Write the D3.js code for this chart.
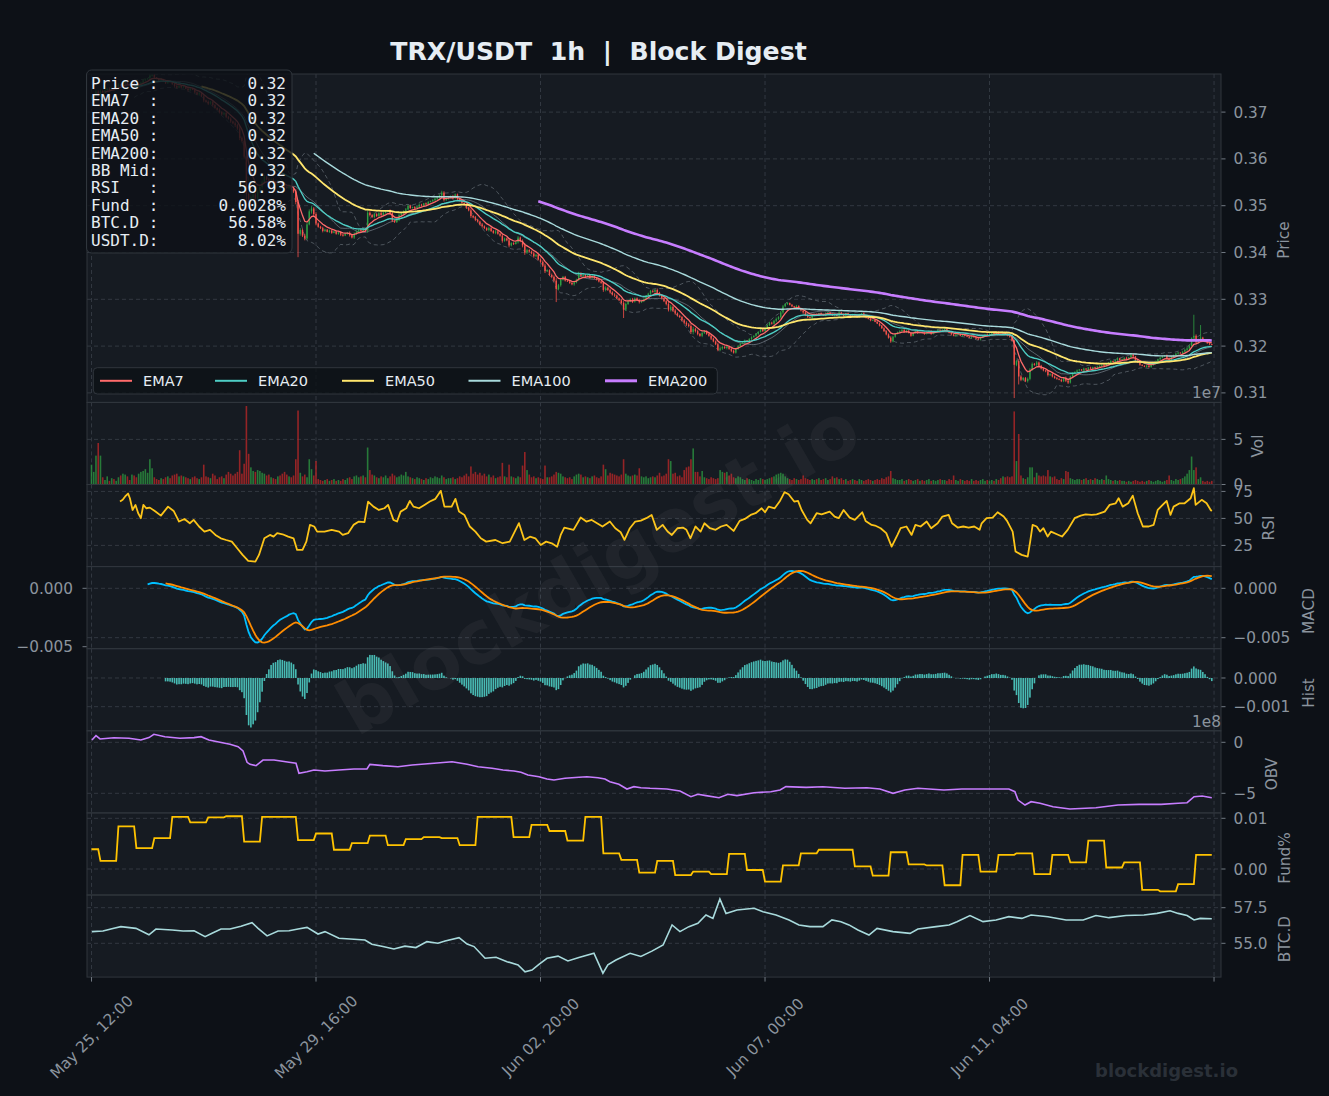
<!DOCTYPE html>
<html>
<head>
<meta charset="utf-8">
<title>TRX/USDT 1h | Block Digest</title>
<script src="https://cdn.jsdelivr.net/npm/d3@7/dist/d3.min.js"></script>
<style>
  body { margin: 0; background: #0d1117; }
</style>
</head>
<body>
<svg id="chart"></svg>
<script>
// hourly candles starting May 25 12:00, prices in units of 0.0001 USDT
const tickHours = [0, 100, 200, 300, 400, 500];
const tickLabels = ["May 25, 12:00", "May 29, 16:00", "Jun 02, 20:00", "Jun 07, 00:00", "Jun 11, 04:00", ""];

const firstOpen = 3728;
const closes = [
  3732, 3735, 3744, 3735, 3745, 3742, 3747, 3750, 3747, 3752,
  3750, 3755, 3759, 3756, 3761, 3765, 3760, 3758, 3763, 3758,
  3755, 3758, 3763, 3768, 3770, 3772, 3778, 3780, 3774, 3771,
  3768, 3770, 3766, 3762, 3766, 3764, 3760, 3756, 3752, 3756,
  3753, 3755, 3750, 3747, 3750, 3748, 3742, 3738, 3740, 3734,
  3725, 3722, 3718, 3722, 3715, 3709, 3705, 3700, 3695, 3698,
  3690, 3686, 3680, 3676, 3672, 3665, 3645, 3638, 3605, 3525,
  3512, 3518, 3524, 3515, 3530, 3540, 3550, 3562, 3556, 3552,
  3556, 3550, 3545, 3552, 3548, 3543, 3540, 3538, 3542, 3535,
  3530, 3508, 3440, 3448, 3436, 3430, 3460, 3488, 3494, 3482,
  3462, 3455, 3452, 3446, 3449, 3444, 3447, 3442, 3445, 3440,
  3443, 3438, 3436, 3440, 3442, 3437, 3432, 3440, 3445, 3448,
  3446, 3450, 3447, 3485, 3480, 3476, 3482, 3478, 3484, 3480,
  3485, 3487, 3490, 3484, 3468, 3465, 3470, 3480, 3484, 3488,
  3492, 3500, 3495, 3497, 3494, 3498, 3502, 3500, 3505, 3503,
  3508, 3510, 3512, 3515, 3518, 3522, 3528, 3512, 3515, 3518,
  3520, 3516, 3524, 3514, 3510, 3506, 3502, 3496, 3490, 3478,
  3475, 3470, 3466, 3460, 3456, 3452, 3448, 3452, 3446, 3442,
  3445, 3440, 3436, 3425, 3430, 3426, 3415, 3420, 3418, 3422,
  3432, 3424, 3415, 3400, 3405, 3402, 3398, 3392, 3395, 3385,
  3380, 3372, 3360, 3362, 3352, 3348, 3340, 3322, 3330, 3342,
  3348, 3340, 3338, 3335, 3332, 3336, 3342, 3356, 3350, 3352,
  3348, 3352, 3346, 3350, 3345, 3342, 3338, 3335, 3320, 3325,
  3320, 3315, 3310, 3308, 3302, 3298, 3292, 3278, 3290, 3296,
  3300, 3295, 3302, 3298, 3294, 3296, 3300, 3308, 3312, 3318,
  3316, 3320, 3314, 3308, 3302, 3296, 3290, 3278, 3284, 3276,
  3270, 3265, 3262, 3255, 3250, 3246, 3243, 3230, 3236, 3232,
  3226, 3222, 3228, 3232, 3226, 3222, 3216, 3210, 3204, 3192,
  3195, 3198, 3196, 3199, 3194, 3190, 3186, 3194, 3200, 3205,
  3208, 3212, 3210, 3215, 3219, 3222, 3226, 3230, 3236, 3232,
  3238, 3245, 3250, 3248, 3254, 3258, 3262, 3272, 3285, 3290,
  3292, 3288, 3285, 3282, 3286, 3280, 3276, 3272, 3266, 3262,
  3260, 3265, 3268, 3266, 3270, 3268, 3266, 3270, 3272, 3268,
  3266, 3268, 3265, 3272, 3268, 3265, 3270, 3266, 3264, 3268,
  3265, 3262, 3268, 3270, 3264, 3260, 3258, 3255, 3256, 3252,
  3248, 3244, 3238, 3232, 3225, 3218, 3210, 3220, 3226, 3230,
  3232, 3235, 3230, 3233, 3228, 3222, 3228, 3232, 3228, 3230,
  3228, 3226, 3230, 3232, 3226, 3229, 3231, 3234, 3232, 3235,
  3236, 3232, 3228, 3225, 3222, 3224, 3226, 3222, 3224, 3222,
  3220, 3218, 3221, 3219, 3216, 3214, 3218, 3222, 3225, 3224,
  3226, 3228, 3226, 3230, 3226, 3224, 3228, 3226, 3222, 3220,
  3212, 3160, 3168, 3135, 3128, 3132, 3125, 3130, 3150, 3162,
  3160, 3165, 3158, 3152, 3148, 3146, 3138, 3140, 3135, 3132,
  3130, 3128, 3125, 3132, 3126, 3122, 3135, 3142, 3145, 3148,
  3150, 3148, 3152, 3150, 3154, 3152, 3155, 3153, 3156, 3158,
  3160, 3158, 3162, 3165, 3168, 3166, 3170, 3174, 3170, 3172,
  3175, 3172, 3176, 3182, 3178, 3170, 3165, 3160, 3158, 3156,
  3158, 3155, 3160, 3162, 3168, 3172, 3175, 3178, 3180, 3174,
  3170, 3178, 3180, 3184, 3186, 3185, 3188, 3192, 3195, 3200,
  3218, 3222, 3208, 3214, 3218, 3212, 3210, 3206, 3204, 3203
];
// wick beyond the body, 0.0001 units
const wicks = [
  2,3,4,3,3,2,1,2,3,1,2,2,3,1,2,3,2,1,2,3,2,1,2,3,2,
  1,3,2,2,1,2,3,1,2,2,1,2,3,2,1,2,2,1,3,2,1,2,2,3,2,
  4,2,3,2,3,2,1,3,2,2,3,2,3,2,4,3,5,3,4,0,6,4,3,4,3,
  3,4,3,2,3,2,3,2,3,2,2,3,2,3,2,3,5,0,4,3,4,3,4,5,3,
  4,2,2,3,2,1,2,2,1,2,2,3,2,1,2,3,2,3,2,2,3,2,2,5,3,
  2,3,2,2,3,2,2,1,2,3,2,2,3,2,2,3,2,2,1,2,2,3,2,1,2,
  2,1,2,2,3,2,4,3,2,2,2,3,2,2,1,2,2,3,2,4,2,3,2,2,3,
  2,2,3,2,2,3,2,2,4,2,2,4,2,2,1,3,2,4,5,3,2,2,3,2,2,
  2,3,4,2,2,3,3,0,3,3,2,2,1,2,2,3,2,3,2,2,2,1,2,2,2,
  2,2,2,4,3,2,3,2,3,2,2,3,0,3,2,2,3,2,2,3,2,2,1,2,2,
  2,2,3,2,2,2,3,4,4,3,3,2,2,2,3,3,3,4,5,3,3,2,3,2,2,
  2,3,2,2,3,3,3,2,3,2,3,2,2,2,2,1,2,1,2,2,1,2,2,1,2,
  1,2,2,2,2,3,2,3,3,2,2,1,2,1,2,1,2,3,2,2,1,2,1,2,1,
  2,1,2,1,1,2,2,1,2,1,2,1,1,2,1,1,2,1,1,2,1,1,2,1,1,
  1,2,1,2,2,2,3,2,2,1,2,1,1,2,1,2,1,1,2,1,1,2,1,1,2,
  1,1,2,1,1,2,1,1,2,1,2,1,1,2,1,1,1,2,1,1,1,2,1,1,2,
  1,2,1,1,2,1,2,2,1,2,2,0,3,0,3,2,2,3,3,3,2,3,2,2,2,
  2,3,2,2,2,2,1,2,2,3,3,2,2,1,2,1,1,2,1,1,2,1,1,2,1,
  1,2,1,1,2,1,1,2,1,1,1,2,1,1,2,1,1,2,1,1,2,1,1,2,1,
  1,2,1,1,2,2,1,2,1,2,1,2,2,3,3,0,2,3,2,0,2,2,1,2,1
];
// [hour, high, low] for candles with long wicks
const spikes = [
  [69, 3612, 3490], [70, 3528, 3500], [92, 3512, 3390], [97, 3492, 3458],
  [207, 3345, 3294], [237, 3296, 3260], [411, 3214, 3089], [413, 3172, 3118],
  [491, 3267, 3210], [494, 3245, 3210]
];
// volume, millions
const volumes = [
  22, 14, 32, 46, 32, 8, 5, 9, 4, 7,
  6, 4, 8, 10, 12, 11, 9, 5, 11, 10,
  8, 12, 14, 15, 17, 13, 28, 18, 8, 6,
  5, 7, 6, 8, 9, 7, 10, 11, 12, 9,
  10, 9, 8, 7, 6, 8, 9, 7, 6, 8,
  22, 9, 8, 7, 12, 10, 6, 8, 9, 7,
  11, 14, 12, 10, 12, 14, 38, 12, 23, 87,
  34, 19, 15, 14, 16, 15, 13, 12, 10, 11,
  8, 7, 6, 9, 10, 12, 14, 11, 9, 8,
  10, 28, 82, 13, 9, 11, 8, 28, 17, 10,
  26, 6, 5, 4, 5, 6, 4, 5, 6, 4,
  5, 4, 6, 5, 7, 8, 6, 9, 10, 8,
  9, 10, 8, 41, 16, 11, 10, 8, 7, 9,
  8, 10, 7, 9, 12, 10, 8, 9, 11, 10,
  14, 9, 8, 7, 6, 8, 7, 6, 5, 7,
  6, 8, 7, 9, 8, 7, 10, 8, 6, 7,
  7, 8, 6, 7, 9, 8, 10, 12, 9, 20,
  12, 14, 11, 13, 10, 12, 9, 11, 8, 10,
  7, 8, 9, 24, 9, 8, 22, 9, 8, 7,
  9, 8, 21, 36, 16, 11, 8, 9, 7, 8,
  7, 6, 21, 8, 8, 9, 11, 14, 13, 12,
  9, 8, 7, 8, 6, 9, 11, 12, 11, 8,
  9, 8, 7, 9, 10, 8, 7, 9, 22, 17,
  10, 13, 12, 11, 10, 9, 11, 28, 12, 10,
  9, 10, 11, 10, 18, 9, 8, 9, 7, 8,
  9, 8, 10, 13, 9, 10, 12, 28, 26, 12,
  13, 9, 10, 8, 16, 19, 20, 28, 40, 14,
  14, 9, 15, 8, 7, 6, 8, 7, 6, 7,
  16, 14, 13, 14, 10, 12, 8, 7, 9, 8,
  6, 5, 7, 6, 5, 4, 6, 5, 7, 6,
  5, 6, 7, 8, 9, 11, 12, 13, 12, 9,
  7, 6, 5, 7, 6, 5, 6, 10, 7, 6,
  5, 6, 5, 6, 7, 5, 6, 7, 5, 6,
  9, 7, 8, 6, 7, 5, 6, 4, 5, 6,
  5, 4, 6, 5, 4, 5, 6, 5, 4, 5,
  6, 5, 7, 6, 8, 9, 15, 7, 6, 5,
  5, 6, 4, 5, 6, 5, 4, 5, 6, 4,
  5, 4, 5, 6, 4, 5, 4, 5, 6, 5,
  5, 4, 6, 5, 10, 5, 4, 6, 5, 4,
  5, 4, 6, 4, 5, 4, 5, 6, 4, 5,
  4, 5, 4, 6, 5, 7, 9, 8, 9, 8,
  9, 81, 26, 56, 10, 7, 6, 8, 19, 19,
  8, 13, 10, 9, 10, 9, 16, 9, 8, 9,
  6, 5, 7, 6, 15, 14, 7, 6, 5, 6,
  6, 5, 6, 7, 5, 6, 5, 7, 6, 5,
  6, 5, 10, 6, 5, 4, 5, 4, 5, 4,
  4, 3, 4, 3, 4, 5, 4, 3, 4, 3,
  4, 5, 4, 3, 4, 5, 4, 3, 4, 5,
  10, 5, 4, 6, 5, 6, 7, 9, 12, 16,
  31, 16, 19, 6, 8, 4, 3, 4, 3, 4
];
// [hour, RSI]
const rsiPoints = [
  [12.7,65.6],[13.9,67.2],[15,70.3],[16.3,73],[17.1,68.7],[18.3,57.8],[19.6,62.5],[20.8,54.8],[22,50.2],[23.1,62.5],
  [24.4,59.4],[26,60],[28.5,56.3],[30.9,52.6],[34.1,60.9],[36.6,56.9],[39,47.1],[41.4,49.5],[43.8,45.5],[45.5,48.6],
  [47.9,42.5],[50.3,37.8],[52.8,39.4],[55.2,34.7],[57.6,31.6],[60,30],[62.5,28.5],[64.9,22.4],[67.3,16.2],[69.8,10.6],
  [73,10],[74.6,16.2],[77,31.6],[79.5,34.7],[81.1,33.1],[82.7,36.3],[85.1,35.3],[87.6,33.1],[90,31.6],[91.6,20.8],
  [94,20.8],[95.7,28.5],[97.3,44],[99.2,42.5],[100.5,37.8],[103.8,37.8],[107,39.4],[110.3,37.8],[111.9,34.7],[114.3,36.3],
  [116.7,44],[119.1,47.1],[121.6,46.5],[123.2,65.6],[125.6,60.9],[128,57.8],[130.5,59.4],[132.1,62.5],[134.5,48.6],[136.1,47.1],
  [137.7,56.3],[140.2,59.4],[141.8,66.2],[143.4,60.9],[145.9,59.4],[148.3,62.5],[150.7,65.6],[153.2,68.1],[155.6,75.5],[157.2,60.9],
  [160.4,60.9],[162.1,68.1],[163.7,56.3],[166.1,53.2],[168.5,42.5],[171,37.8],[173.4,31.6],[175.8,28.5],[179.9,30],[183.1,27],
  [186.3,28.5],[190.4,45.6],[192.8,30],[195.3,33.1],[197.7,31.6],[200.1,25.4],[202.5,28.5],[205,26.9],[207.4,23.8],[209,34.7],
  [210.6,41.5],[214.7,39.4],[217.9,50.8],[220.4,47.1],[222.8,48.6],[225.2,45.6],[227.6,42.5],[230.9,47.1],[233.3,40.9],[235.7,37.2],
  [237.4,30.1],[239.8,40.9],[242.2,47.1],[244.7,48],[247.1,50.2],[249.5,53.2],[251.8,39.4],[254.4,44],[256.6,37.8],[258.5,34.7],
  [261,40.9],[263.4,41.5],[265,39.4],[266.8,31.6],[269,42.5],[271.3,37.8],[273,45.5],[275.5,40.9],[278,39.4],[280.4,42.5],
  [282.9,44],[286,38.4],[288.7,47.7],[291,49.5],[293.6,53.2],[295.8,54.8],[298.5,59.4],[300,55.7],[301.6,60.9],[304.3,59.4],
  [306.5,65.6],[308.7,74.3],[310.5,72.4],[313,65.6],[314.7,66.2],[316.3,57.8],[318.8,48.6],[320.3,45.5],[323,54.8],[325.2,53.8],
  [328.8,56.3],[331,51.7],[332.8,50.2],[335,57.8],[337.7,50.7],[340,48.6],[343.3,55.7],[344.8,47.7],[347.5,44],[349,43.4],
  [351.5,40.9],[354,36.3],[356.4,23.9],[359,34.7],[360.4,40.9],[363,42.5],[365.3,34.7],[367,44],[369.3,42.5],[372,47.1],
  [374,40.9],[376.9,45.5],[379,51.7],[381.8,53.2],[383.3,45.5],[385.8,41.5],[388.3,42.5],[390.7,41.5],[393.2,42.5],[395.6,39.4],
  [396.5,45.5],[398.7,50.2],[401.4,50.8],[403.6,55.7],[406.3,51.7],[407.8,47.7],[410.3,37.8],[411.6,19.3],[414.3,16.2],[417,14.7],
  [418.1,28.5],[419.2,44],[421,42.5],[422.5,37.8],[424,40.9],[425.9,33.2],[427.4,37.8],[430,35.3],[432.3,33.2],[434.8,39.4],
  [437.9,50.2],[440.6,52.6],[442.8,53.8],[445.5,53.2],[447.7,53.8],[451.3,56.3],[453.5,62.5],[456.2,64],[457.5,68.7],[459.3,60.9],
  [461.8,64],[463.8,71.1],[466,54.8],[468.3,42.5],[470.9,42.5],[473.1,44],[474.9,57.8],[477.1,62.5],[478.9,66.2],[480.6,53.2],
  [482,60.9],[484.7,64],[486.9,64],[489.6,68.7],[491,78],[491.8,62.5],[494.5,67.2],[496.7,64],[498.5,57.8],[499,56.9]
];
// [hour, OBV in 1e8]
const obvPoints = [
  [0.2,0.23],[2,0.65],[3.8,0.33],[10,0.45],[16.7,0.39],[22,0.23],[25.6,0.46],[27.8,0.78],[32.7,0.55],[39.4,0.39],
  [45.7,0.46],[48.8,0.55],[52.3,0.23],[57.2,0.0],[61.7,-0.2],[65.3,-0.43],[67.5,-0.85],[69.3,-1.96],[70.6,-2.16],[73.3,-2.29],
  [76.4,-1.74],[81.3,-1.74],[88,-1.96],[91.1,-2.06],[92.4,-3.04],[96,-2.88],[99.1,-2.72],[104,-2.81],[110.2,-2.72],[116.9,-2.62],
  [122.7,-2.62],[124,-2.16],[129.8,-2.29],[136.5,-2.39],[142.8,-2.22],[152.6,-2.06],[160.6,-1.9],[167.3,-2.16],[172.2,-2.39],[178.4,-2.55],
  [183.3,-2.72],[188.2,-2.81],[191.3,-2.94],[194.4,-3.2],[199.3,-3.37],[202.9,-3.6],[206,-3.7],[210.9,-3.53],[217.1,-3.43],[220.7,-3.37],
  [225.6,-3.47],[228.7,-3.6],[230.9,-3.86],[234.9,-4.12],[238.5,-4.58],[241.6,-4.35],[244.7,-4.45],[248.8,-4.51],[256.3,-4.58],[262.1,-4.77],
  [267,-5.33],[270.1,-5.1],[273.7,-5.23],[279.5,-5.43],[283.5,-5.1],[287.5,-5.23],[295.1,-4.94],[302.6,-4.84],[306.7,-4.68],[309.3,-4.35],
  [318.3,-4.42],[325.8,-4.35],[335.6,-4.51],[345.4,-4.45],[351.2,-4.58],[357,-5.0],[362.3,-4.68],[368.1,-4.51],[379.7,-4.68],[387.7,-4.58],
  [399.3,-4.58],[408.6,-4.58],[411.3,-4.84],[412.7,-5.66],[415.8,-6.15],[418.5,-5.82],[422.5,-5.98],[428.3,-6.31],[435.8,-6.54],[447.4,-6.41],
  [457.2,-6.15],[466.6,-6.08],[476.4,-6.08],[484,-5.98],[488,-5.92],[491.1,-5.33],[494.7,-5.26],[499,-5.43]
];
// [hour, BTC dominance %]
const btcdPoints = [
  [0.2,55.82],[5.1,55.86],[10,56.05],[13.1,56.17],[19.8,56.05],[25.6,55.6],[28.7,56.0],[35.9,55.93],[40.8,55.86],[45.7,55.88],
  [50.6,55.47],[53.7,55.7],[57.7,56.0],[61.7,56.0],[66.6,56.2],[71.5,56.45],[74.2,56.05],[78.2,55.52],[83.1,55.86],[88,55.88],
  [92,56.0],[96,56.12],[100.9,55.65],[104,55.82],[110.2,55.35],[116.9,55.28],[121.8,55.23],[124.9,54.93],[129.8,54.77],[134.7,54.6],
  [139.6,54.8],[144.5,54.7],[149.4,55.12],[154.3,55.0],[157.5,55.16],[163.7,55.4],[167.3,54.95],[170.4,54.77],[175.3,53.95],[180.2,54.02],
  [185.1,53.71],[190,53.48],[193.1,53.0],[196.2,53.12],[199.3,53.52],[202.9,53.95],[207.8,54.1],[212.2,53.76],[217.1,54.0],[223.8,54.3],
  [227.8,52.9],[230,53.48],[233.6,53.83],[239.9,54.3],[244.7,54.08],[249.6,54.45],[254.6,54.88],[258.6,56.29],[262.1,55.82],[266.1,56.17],
  [270.1,56.4],[273.7,56.99],[276.8,56.75],[279.9,58.11],[282.6,57.1],[287.5,57.34],[295.1,57.46],[299.1,57.22],[304.9,56.99],[310.7,56.64],
  [315.1,56.29],[320,56.17],[325.8,56.17],[329.8,56.64],[333.8,56.52],[337.4,56.29],[341.4,55.93],[346.3,55.58],[349.9,56.05],[357,55.82],
  [364.6,55.7],[368.1,56.0],[376.2,56.17],[382,56.29],[385.5,56.52],[391.3,56.95],[397.1,56.52],[402.9,56.64],[408.6,56.87],[414.4,56.75],
  [418.5,56.99],[426,56.87],[434.1,56.64],[441.7,56.64],[447.4,56.95],[453.2,56.8],[460.8,56.95],[468.8,56.99],[474.6,57.1],[480.4,57.28],
  [484,57.1],[488,56.95],[491.1,56.64],[493.8,56.75],[499,56.72]
];
// funding rate %, one value per 8h period (first change at hour 4)
const fundByPeriod = [
  0.0039, 0.0016, 0.0084, 0.0041, 0.0061, 0.0103, 0.0092, 0.0102, 0.0104, 0.0054,
  0.0103, 0.0103, 0.0057, 0.0070, 0.0038, 0.0051, 0.0066, 0.0047, 0.0059, 0.0063,
  0.0061, 0.0047, 0.0103, 0.0103, 0.0063, 0.0087, 0.0075, 0.0056, 0.0103, 0.0031,
  0.0018, -0.0007, 0.0016, -0.0012, -0.0005, -0.0010, 0.0030, -0.0002, -0.0025, 0.0007,
  0.0031, 0.0038, 0.0038, 0.0005, -0.0013, 0.0033, 0.0009, 0.0007, -0.0032, 0.0028,
  -0.0005, 0.0028, 0.0031, -0.0010, 0.0028, 0.0013, 0.0056, 0.0003, 0.0013, -0.0041,
  -0.0044, -0.0030, 0.0028
];
const infoLabels = ["Price :", "EMA7  :", "EMA20 :", "EMA50 :", "EMA200:", "BB Mid:", "RSI   :", "Fund  :", "BTC.D :", "USDT.D:"];
const infoValues = ["0.32", "0.32", "0.32", "0.32", "0.32", "0.32", "56.93", "0.0028%", "56.58%", "8.02%"];
const emaSpans = [7, 20, 50, 100, 200];
const emaNames = ["EMA7", "EMA20", "EMA50", "EMA100", "EMA200"];

// ---- layout ----
const W = 1329, H = 1096;
const L = 87, R = 1221;
const rows = [74, 402.4, 484.5, 566.6, 648.7, 730.8, 812.9, 895, 977.1];
const bg = "#0d1117", panelBg = "#161b22", border = "#30363d", gridColor = "#3a4049", tickColor = "#8b949e";
const upColor = "#2ea043", downColor = "#f85149";
const emaColors = ["#ff6b6b", "#4ecdc4", "#ffe66d", "#a8dadc", "#c77dff"];
const emaWidths = [1.3, 1.4, 1.8, 1.4, 2.6];
const sans = "DejaVu Sans, sans-serif", mono = "DejaVu Sans Mono, monospace";
const fs = 15.3;

const svg = d3.select("#chart").attr("width", W).attr("height", H).style("font-family", sans);
svg.append("rect").attr("width", W).attr("height", H).attr("fill", bg);

const x = d3.scaleLinear().domain([-2, 503.1]).range([L, R]);

const defs = svg.append("defs");
const panels = rows.slice(0, -1).map((top, k) => {
  const bottom = rows[k + 1];
  svg.append("rect").attr("x", L).attr("y", top).attr("width", R - L).attr("height", bottom - top).attr("fill", panelBg);
  defs.append("clipPath").attr("id", "clip" + k).append("rect")
    .attr("x", L).attr("y", top).attr("width", R - L).attr("height", bottom - top);
  const grid = svg.append("g");
  const g = svg.append("g").attr("clip-path", "url(#clip" + k + ")");
  tickHours.forEach(h => {
    grid.append("line").attr("x1", x(h)).attr("x2", x(h)).attr("y1", top).attr("y2", bottom)
      .attr("stroke", gridColor).attr("stroke-width", 0.8).attr("stroke-dasharray", "4,3");
  });
  return { top, bottom, grid, g };
});

function yTicks(k, scale, vals, labels, side) {
  const p = panels[k];
  vals.forEach((v, j) => {
    const yy = scale(v);
    if (side !== "left") {
      p.grid.append("line").attr("x1", L).attr("x2", R).attr("y1", yy).attr("y2", yy)
        .attr("stroke", gridColor).attr("stroke-width", 0.8).attr("stroke-dasharray", "4,3");
      svg.append("line").attr("x1", R).attr("x2", R + 4.5).attr("y1", yy).attr("y2", yy)
        .attr("stroke", tickColor).attr("stroke-width", 0.8);
      svg.append("text").attr("x", R + 12.5).attr("y", yy).attr("dy", "0.36em")
        .attr("fill", tickColor).attr("font-size", fs).text(labels[j]);
    } else {
      svg.append("line").attr("x1", L - 4.5).attr("x2", L).attr("y1", yy).attr("y2", yy)
        .attr("stroke", tickColor).attr("stroke-width", 0.8);
      svg.append("text").attr("x", L - 14).attr("y", yy).attr("dy", "0.36em").attr("text-anchor", "end")
        .attr("fill", tickColor).attr("font-size", fs).text(labels[j]);
    }
  });
}

function ema(arr, span, minP) {
  const a = 2 / (span + 1);
  let num = 0, den = 0, n = 0;
  return arr.map(v => {
    if (v == null) return null;
    num = v + (1 - a) * num;
    den = 1 + (1 - a) * den;
    n++;
    return n >= minP ? num / den : null;
  });
}
const lineFor = scale => d3.line().defined(d => d[1] != null).x(d => x(d[0])).y(d => scale(d[1]));
const withHour = arr => arr.map((v, i) => [i, v]);

// ---- price panel ----
const cl = closes.map(c => c / 1e4);
const candles = closes.map((c, i) => {
  const o = i === 0 ? firstOpen : closes[i - 1];
  const w = wicks[i] || 0;
  let hi = Math.max(o, c) + w, lo = Math.min(o, c) - w;
  const s = spikes.find(d => d[0] === i);
  if (s) { hi = s[1]; lo = s[2]; }
  return { i, o: o / 1e4, c: c / 1e4, hi: hi / 1e4, lo: lo / 1e4, v: volumes[i] };
});
const yP = d3.scaleLinear().domain([0.30797, 0.378141]).range([rows[1], rows[0]]);
const pg = panels[0].g;

const bbMid = cl.map((c, i) => i < 19 ? null : d3.mean(cl.slice(i - 19, i + 1)));
const bbSd = cl.map((c, i) => i < 19 ? null : d3.deviation(cl.slice(i - 19, i + 1)));
const bbUp = bbMid.map((m, i) => m == null ? null : m + 2 * bbSd[i]);
const bbLo = bbMid.map((m, i) => m == null ? null : m - 2 * bbSd[i]);
[bbUp, bbLo].forEach(s => {
  pg.append("path").datum(withHour(s)).attr("d", lineFor(yP)).attr("fill", "none")
    .attr("stroke", "#8b949e").attr("stroke-opacity", 0.55).attr("stroke-width", 0.9).attr("stroke-dasharray", "4,3");
});
pg.append("path").datum(withHour(bbMid)).attr("d", lineFor(yP)).attr("fill", "none")
  .attr("stroke", "#8b949e").attr("stroke-opacity", 0.6).attr("stroke-width", 1);

pg.selectAll(".wick").data(candles).join("line")
  .attr("x1", d => x(d.i)).attr("x2", d => x(d.i))
  .attr("y1", d => yP(d.hi)).attr("y2", d => yP(d.lo))
  .attr("stroke", d => d.c >= d.o ? upColor : downColor).attr("stroke-width", 0.8);
pg.selectAll(".body").data(candles).join("rect")
  .attr("x", d => x(d.i) - 0.7).attr("width", 1.4)
  .attr("y", d => yP(Math.max(d.o, d.c)))
  .attr("height", d => Math.max(0.8, Math.abs(yP(d.o) - yP(d.c))))
  .attr("fill", d => d.c >= d.o ? upColor : downColor);

const emaSeries = emaSpans.map(s => ema(cl, s, s));
emaSeries.forEach((s, k) => {
  pg.append("path").datum(withHour(s)).attr("d", lineFor(yP)).attr("fill", "none")
    .attr("stroke", emaColors[k]).attr("stroke-width", emaWidths[k]);
});
yTicks(0, yP, [0.31, 0.32, 0.33, 0.34, 0.35, 0.36, 0.37], ["0.31", "0.32", "0.33", "0.34", "0.35", "0.36", "0.37"]);

// ---- volume ----
const yV = d3.scaleLinear().domain([0, 91]).range([rows[2], rows[1]]);
panels[1].g.selectAll("rect").data(candles).join("rect")
  .attr("x", d => x(d.i) - 0.8).attr("width", 1.6)
  .attr("y", d => yV(d.v)).attr("height", d => yV(0) - yV(d.v))
  .attr("fill", d => d.c >= d.o ? "#2ea043" : "#c62828").attr("fill-opacity", 0.72);
yTicks(1, yV, [0, 50], ["0", "5"]);

// ---- RSI ----
const yR = d3.scaleLinear().domain([5.37, 81.4]).range([rows[3], rows[2]]);
panels[2].g.append("path").datum(rsiPoints).attr("d", lineFor(yR)).attr("fill", "none")
  .attr("stroke", "#fcc419").attr("stroke-width", 1.8).attr("stroke-linejoin", "round");
yTicks(2, yR, [25, 50, 75], ["25", "50", "75"]);

// ---- MACD ----
const e12 = ema(cl, 12, 12), e26 = ema(cl, 26, 26);
const macd = cl.map((c, i) => e12[i] != null && e26[i] != null ? e12[i] - e26[i] : null);
const signal = ema(macd, 9, 9);
const hist = macd.map((m, i) => m != null && signal[i] != null ? m - signal[i] : null);
const yM = d3.scaleLinear().domain([-0.006113, 0.002196]).range([rows[4], rows[3]]);
const yS = d3.scaleLinear().domain([-0.005171, 0.001858]).range([rows[4], rows[3]]);
panels[3].g.append("path").datum(withHour(macd)).attr("d", lineFor(yM)).attr("fill", "none")
  .attr("stroke", "#00bfff").attr("stroke-width", 1.8);
panels[3].g.append("path").datum(withHour(signal)).attr("d", lineFor(yS)).attr("fill", "none")
  .attr("stroke", "#ff8c00").attr("stroke-width", 1.8);
yTicks(3, yM, [0, -0.005], ["0.000", "\u22120.005"]);
yTicks(3, yS, [0, -0.005], ["0.000", "\u22120.005"], "left");

// ---- histogram ----
const yH = d3.scaleLinear().domain([-0.00184, 0.001021]).range([rows[5], rows[4]]);
panels[4].g.selectAll("rect").data(withHour(hist).filter(d => d[1] != null)).join("rect")
  .attr("x", d => x(d[0]) - 0.8).attr("width", 1.6)
  .attr("y", d => Math.min(yH(0), yH(d[1]))).attr("height", d => Math.abs(yH(d[1]) - yH(0)))
  .attr("fill", "#4ecdc4").attr("fill-opacity", 0.9);
yTicks(4, yH, [0, -0.001], ["0.000", "\u22120.001"]);

// ---- OBV ----
const yO = d3.scaleLinear().domain([-6.92, 1.127]).range([rows[6], rows[5]]);
panels[5].g.append("path").datum(obvPoints).attr("d", lineFor(yO)).attr("fill", "none")
  .attr("stroke", "#c77dff").attr("stroke-width", 1.6);
yTicks(5, yO, [0, -5], ["0", "\u22125"]);

// ---- funding ----
const yF = d3.scaleLinear().domain([-0.005128, 0.011065]).range([rows[7], rows[6]]);
const fundHourly = closes.map((c, i) => [i, fundByPeriod[i < 4 ? 0 : 1 + Math.floor((i - 4) / 8)]]);
panels[6].g.append("path").datum(fundHourly).attr("d", lineFor(yF)).attr("fill", "none")
  .attr("stroke", "#ffc300").attr("stroke-width", 1.8);
yTicks(6, yF, [0, 0.01], ["0.00", "0.01"]);

// ---- BTC dominance ----
const yB = d3.scaleLinear().domain([52.626, 58.392]).range([rows[8], rows[7]]);
panels[7].g.append("path").datum(btcdPoints).attr("d", lineFor(yB)).attr("fill", "none")
  .attr("stroke", "#a8dadc").attr("stroke-width", 1.6);
yTicks(7, yB, [55, 57.5], ["55.0", "57.5"]);

// panel borders
panels.forEach(p => {
  svg.append("rect").attr("x", L).attr("y", p.top).attr("width", R - L).attr("height", p.bottom - p.top)
    .attr("fill", "none").attr("stroke", border).attr("stroke-width", 1);
});

// x axis
tickHours.forEach((h, j) => {
  svg.append("line").attr("x1", x(h)).attr("x2", x(h)).attr("y1", rows[8]).attr("y2", rows[8] + 4.5)
    .attr("stroke", tickColor).attr("stroke-width", 0.8);
  if (tickLabels[j]) {
    svg.append("text").attr("transform", `translate(${x(h)},1037) rotate(-45)`)
      .attr("text-anchor", "middle").attr("dy", "0.35em").attr("fill", tickColor).attr("font-size", fs)
      .text(tickLabels[j]);
  }
});

// axis labels
[["Price", 1284, 240], ["Vol", 1257.5, 446], ["RSI", 1268.5, 528], ["MACD", 1308.5, 611],
 ["Hist", 1308.5, 693], ["OBV", 1271.5, 774], ["Fund%", 1284.5, 858], ["BTC.D", 1284.5, 939]]
  .forEach(([t, lx, ly]) => {
    svg.append("text").attr("transform", `translate(${lx},${ly}) rotate(-90)`)
      .attr("text-anchor", "middle").attr("dy", "0.35em").attr("fill", tickColor).attr("font-size", fs).text(t);
  });
svg.append("text").attr("x", R).attr("y", 398).attr("text-anchor", "end").attr("fill", tickColor).attr("font-size", fs).text("1e7");
svg.append("text").attr("x", R).attr("y", 727).attr("text-anchor", "end").attr("fill", tickColor).attr("font-size", fs).text("1e8");

// legend
const lg = svg.append("g");
lg.append("rect").attr("x", 93.3).attr("y", 367.7).attr("width", 624).attr("height", 26.3).attr("rx", 4)
  .attr("fill", bg).attr("fill-opacity", 0.8).attr("stroke", border);
const legX = [100, 215, 342, 468.5, 605];
emaNames.forEach((n, k) => {
  lg.append("line").attr("x1", legX[k]).attr("x2", legX[k] + 32).attr("y1", 380.8).attr("y2", 380.8)
    .attr("stroke", emaColors[k]).attr("stroke-width", k === 4 ? 3 : 2);
  lg.append("text").attr("x", legX[k] + 43).attr("y", 380.8).attr("dy", "0.36em")
    .attr("fill", "#e6edf3").attr("font-size", 14.5).text(n);
});

// info box
const ib = svg.append("g").style("font-family", mono);
ib.append("rect").attr("x", 86.5).attr("y", 70).attr("width", 205.5).attr("height", 183).attr("rx", 5)
  .attr("fill", bg).attr("fill-opacity", 0.82).attr("stroke", border);
infoLabels.forEach((t, k) => {
  const yy = 89 + k * 17.4;
  ib.append("text").attr("x", 91).attr("y", yy).style("white-space", "pre")
    .attr("font-size", 16).attr("fill", "#e6edf3").text(t);
  ib.append("text").attr("x", 286).attr("y", yy).attr("text-anchor", "end")
    .attr("font-size", 16).attr("fill", "#e6edf3").text(infoValues[k]);
});

// title
svg.append("text").attr("x", 598.5).attr("y", 60).attr("text-anchor", "middle").style("white-space", "pre")
  .attr("font-size", 25.2).attr("font-weight", "bold").attr("fill", "#e6edf3").text("TRX/USDT  1h  |  Block Digest");

// watermarks
svg.append("text").attr("transform", "translate(598,568) rotate(-30)").attr("text-anchor", "middle").attr("dy", "0.35em")
  .attr("font-size", 74).attr("font-weight", "bold").attr("fill", "#ffffff").attr("fill-opacity", 0.045).text("blockdigest.io");
svg.append("text").attr("x", 1238).attr("y", 1077).attr("text-anchor", "end")
  .attr("font-size", 18).attr("font-weight", "bold").attr("fill", "#2a3038").text("blockdigest.io");
</script>
</body>
</html>
